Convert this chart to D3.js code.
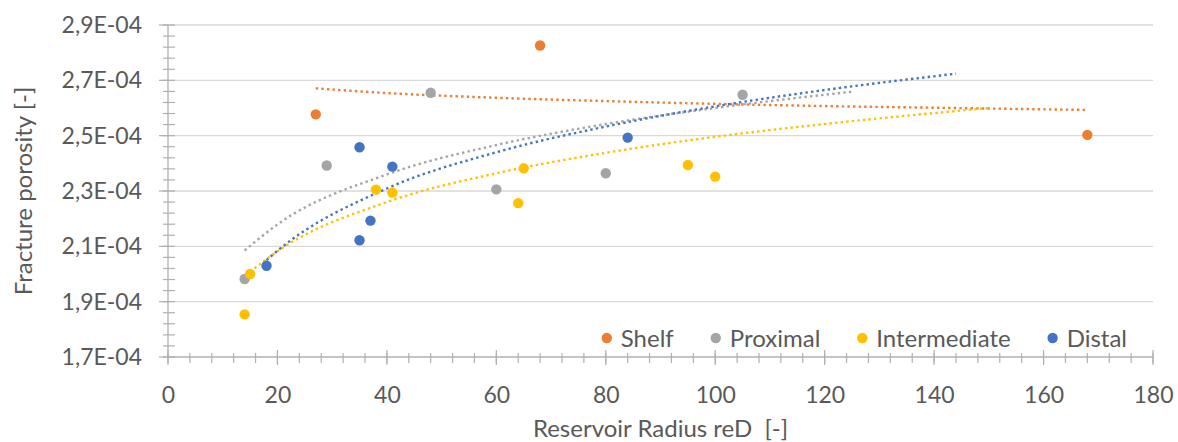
<!DOCTYPE html>
<meta charset="utf-8">
<html>
<head>
<script src="https://d3js.org/d3.v7.min.js"></script>
<style>
  body { margin: 0; background: #fff; }
  text { font-family: Lato, "Open Sans", sans-serif; fill: #595959; }
</style>
</head>
<body>
<div id="chart"></div>
<script>
// ---- data ----
const seriesNames = ["Shelf", "Proximal", "Intermediate", "Distal"];
const seriesColors = ["#ED7D31", "#A5A5A5", "#FFC000", "#4472C4"];

const shelfX = [27, 68, 168];
const shelfY = [2.577e-4, 2.826e-4, 2.503e-4];
const proximalX = [14, 29, 48, 60, 80, 105];
const proximalY = [1.982e-4, 2.392e-4, 2.655e-4, 2.306e-4, 2.364e-4, 2.648e-4];
const intermediateX = [14, 15, 38, 41, 65, 64, 95, 100];
const intermediateY = [1.854e-4, 2.0e-4, 2.305e-4, 2.294e-4, 2.382e-4, 2.256e-4, 2.394e-4, 2.352e-4];
const distalX = [18, 35, 37, 35, 41, 84];
const distalY = [2.03e-4, 2.122e-4, 2.193e-4, 2.458e-4, 2.388e-4, 2.493e-4];

// dotted trend lines
const shelfTrendX = [27, 40, 60, 80, 100, 120, 140, 168];
const shelfTrendY = [2.671e-4, 2.654e-4, 2.637e-4, 2.625e-4, 2.615e-4, 2.607e-4, 2.601e-4, 2.593e-4];
const proximalTrendX = [14, 20, 40, 60, 80, 100, 125];
const proximalTrendY = [2.085e-4, 2.179e-4, 2.36e-4, 2.466e-4, 2.542e-4, 2.6e-4, 2.659e-4];
const intermediateTrendX = [15, 20, 40, 60, 80, 100, 120, 150];
const intermediateTrendY = [2.008e-4, 2.082e-4, 2.26e-4, 2.364e-4, 2.438e-4, 2.496e-4, 2.542e-4, 2.6e-4];
const distalTrendX = [18, 20, 40, 60, 80, 100, 120, 144];
const distalTrendY = [2.05e-4, 2.084e-4, 2.309e-4, 2.44e-4, 2.533e-4, 2.606e-4, 2.665e-4, 2.724e-4];

const xTicks = [0, 20, 40, 60, 80, 100, 120, 140, 160, 180];
const yTicks = [1.7e-4, 1.9e-4, 2.1e-4, 2.3e-4, 2.5e-4, 2.7e-4, 2.9e-4];
const xTitle = "Reservoir Radius reD  [-]";
const yTitle = "Fracture porosity [-]";

// ---- setup ----
const W = 1178, H = 442;
const plotL = 168, plotR = 1153, plotT = 25, plotB = 357;

const svg = d3.select("#chart").append("svg")
  .attr("width", W).attr("height", H);

const x = d3.scaleLinear().domain([0, 180]).range([plotL, plotR]);
const y = d3.scaleLinear().domain([1.7e-4, 2.9e-4]).range([plotB, plotT]);

// gridlines
svg.append("g").selectAll("line")
  .data(yTicks.slice(1))
  .join("line")
    .attr("x1", plotL).attr("x2", plotR)
    .attr("y1", d => y(d)).attr("y2", d => y(d))
    .attr("stroke", "#d9d9d9").attr("stroke-width", 1.3);

// minor ticks (5 steps between majors)
const xMinor = d3.range(0, 181, 4);
const yMinor = d3.range(0, 31).map(i => 1.7e-4 + i * 0.04e-4);

svg.append("g").selectAll("line")
  .data(xMinor)
  .join("line")
    .attr("x1", d => x(d)).attr("x2", d => x(d))
    .attr("y1", plotB - 4).attr("y2", plotB + 6)
    .attr("stroke", "#b0b0b0").attr("stroke-width", 1.2);
svg.append("g").selectAll("line")
  .data(xTicks)
  .join("line")
    .attr("x1", d => x(d)).attr("x2", d => x(d))
    .attr("y1", plotB - 7).attr("y2", plotB + 8)
    .attr("stroke", "#b0b0b0").attr("stroke-width", 1.2);
svg.append("g").selectAll("line")
  .data(yMinor)
  .join("line")
    .attr("x1", plotL - 5).attr("x2", plotL + 7)
    .attr("y1", d => y(d)).attr("y2", d => y(d))
    .attr("stroke", "#b0b0b0").attr("stroke-width", 1.2);
svg.append("g").selectAll("line")
  .data(yTicks)
  .join("line")
    .attr("x1", plotL - 9).attr("x2", plotL)
    .attr("y1", d => y(d)).attr("y2", d => y(d))
    .attr("stroke", "#b0b0b0").attr("stroke-width", 1.2);

// axis lines
svg.append("line").attr("x1", plotL).attr("x2", plotR)
  .attr("y1", plotB).attr("y2", plotB)
  .attr("stroke", "#b0b0b0").attr("stroke-width", 1.3);
svg.append("line").attr("x1", plotL).attr("x2", plotL)
  .attr("y1", plotT).attr("y2", plotB)
  .attr("stroke", "#b0b0b0").attr("stroke-width", 1.3);

// axis labels via d3 axes
const fmtY = d => (d * 1e4).toFixed(1).replace(".", ",") + "E-04";
const gx = svg.append("g")
  .attr("transform", `translate(0,${plotB})`)
  .call(d3.axisBottom(x).tickValues(xTicks).tickSize(0).tickPadding(30));
const gy = svg.append("g")
  .attr("transform", `translate(${plotL},0)`)
  .call(d3.axisLeft(y).tickValues(yTicks).tickFormat(fmtY).tickSize(0).tickPadding(26));
[gx, gy].forEach(g => {
  g.select(".domain").remove();
  g.selectAll("text").attr("font-family", "Lato").attr("font-size", 23).attr("fill", "#595959");
});

// axis titles
svg.append("text")
  .attr("x", (plotL + plotR) / 2).attr("y", 437)
  .attr("text-anchor", "middle").attr("font-size", 24)
  .style("white-space", "pre")
  .text(xTitle);
svg.append("text")
  .attr("transform", `translate(32,${(plotT + plotB) / 2}) rotate(-90)`)
  .attr("text-anchor", "middle").attr("font-size", 24)
  .text(yTitle);

// trend lines
const trends = [
  [shelfTrendX, shelfTrendY],
  [proximalTrendX, proximalTrendY],
  [intermediateTrendX, intermediateTrendY],
  [distalTrendX, distalTrendY]
];
const line = d3.line().x(d => x(d[0])).y(d => y(d[1])).curve(d3.curveMonotoneX);
trends.forEach((t, i) => {
  svg.append("path")
    .datum(d3.zip(t[0], t[1]))
    .attr("fill", "none")
    .attr("stroke", seriesColors[i])
    .attr("stroke-width", 2.4)
    .attr("stroke-dasharray", "2.4 3.2")
    .attr("d", line);
});

// points
const pts = [
  [shelfX, shelfY],
  [proximalX, proximalY],
  [intermediateX, intermediateY],
  [distalX, distalY]
];
pts.forEach((p, i) => {
  svg.append("g").selectAll("circle")
    .data(d3.zip(p[0], p[1]))
    .join("circle")
      .attr("cx", d => x(d[0]))
      .attr("cy", d => y(d[1]))
      .attr("r", 5.2)
      .attr("fill", seriesColors[i]);
});

// legend, right end near x=1127
const legend = svg.append("g");
let lx = 0;
seriesNames.forEach((name, i) => {
  const item = legend.append("g").attr("transform", `translate(${lx},0)`);
  item.append("circle").attr("cx", 0).attr("cy", 0).attr("r", 5.2).attr("fill", seriesColors[i]);
  const t = item.append("text").attr("x", 14).attr("y", 8.5)
    .attr("font-size", 24).text(name);
  lx += 14 + t.node().getComputedTextLength() + 42;
});
const legendWidth = lx - 42;
legend.attr("transform", `translate(${1127 - legendWidth},338)`);
</script>
</body>
</html>
